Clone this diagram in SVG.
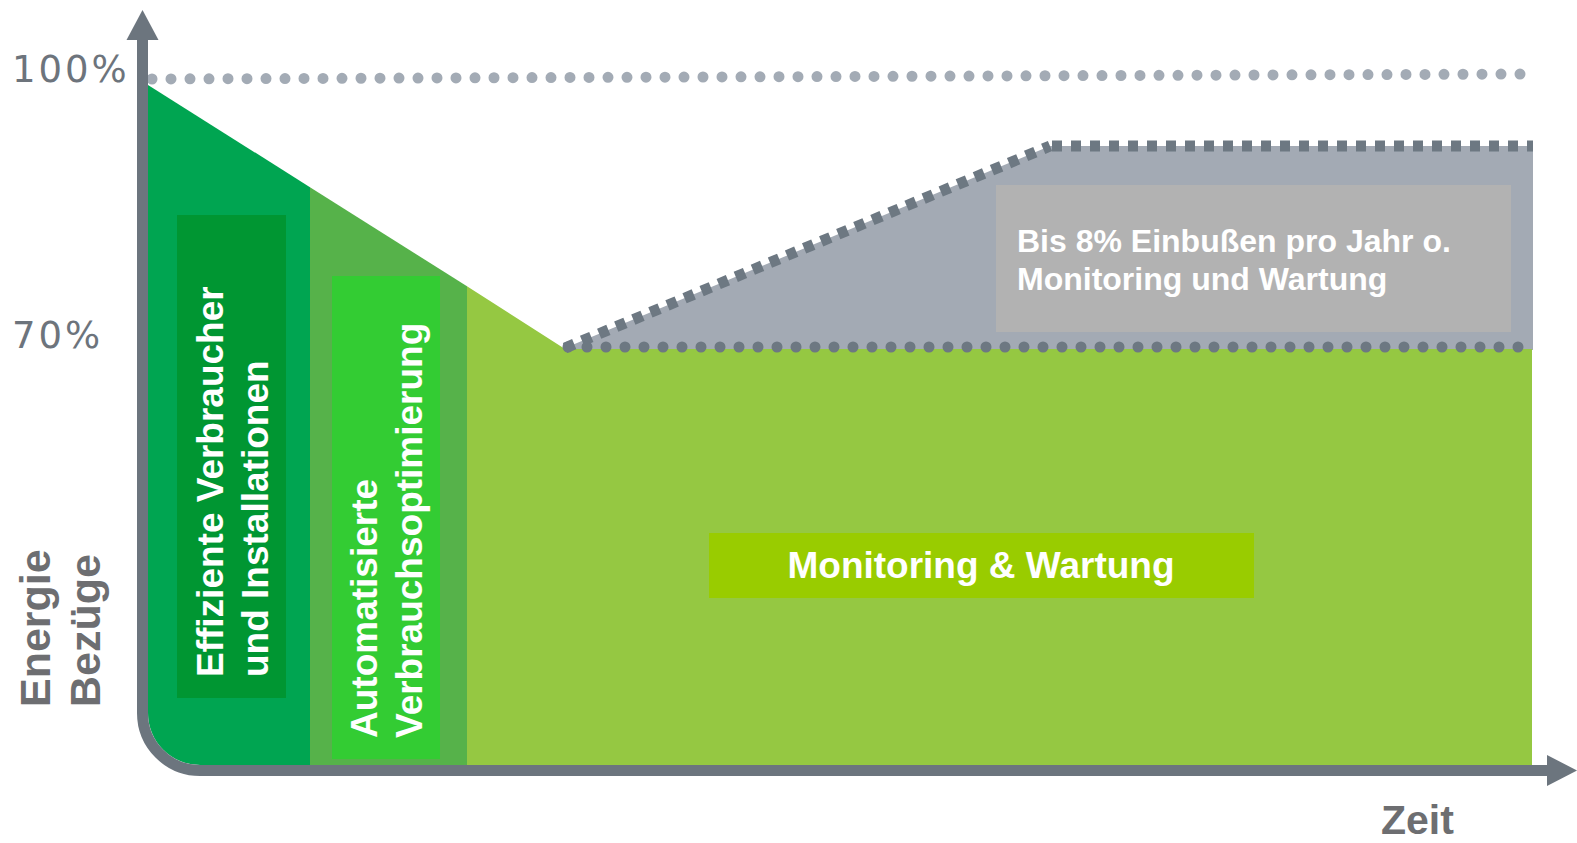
<svg xmlns="http://www.w3.org/2000/svg" width="1577" height="843" viewBox="0 0 1577 843">
<style>
.lbl{font-family:"Liberation Sans",Arial,sans-serif;font-weight:bold;fill:#ffffff}
.pct{font-family:"DejaVu Sans",sans-serif;font-size:37px;fill:#6d747c;letter-spacing:3px}
.axt{font-family:"Liberation Sans",Arial,sans-serif;font-weight:bold;fill:#6d6e71}
.axis{fill:none;stroke:#6c757e;stroke-width:11}
</style>
<rect width="1577" height="843" fill="#ffffff"/>
<g id="loss-area">
<polygon points="565,348 1050,146 1533,146 1533,350 565,350" fill="#a3aab4"/>
</g>
<g id="phase1">
<path d="M148,85 L310,187.2 L310,765 L200,765 A52,52 0 0 1 148,713 Z" fill="#00a551"/>
<rect x="177" y="215" width="109" height="483" fill="#009632"/>
<text class="lbl" font-size="37" transform="translate(223,677) rotate(-90)">Effiziente Verbraucher</text>
<text class="lbl" font-size="37" transform="translate(268,677) rotate(-90)">und Installationen</text>
</g>
<g id="phase2">
<polygon points="310,187.2 467,286.3 467,765 310,765" fill="#56b24a"/>
<rect x="332" y="276" width="108" height="483" fill="#33cc33"/>
<text class="lbl" font-size="37" transform="translate(377,738) rotate(-90)">Automatisierte</text>
<text class="lbl" font-size="37" transform="translate(422,738) rotate(-90)">Verbrauchsoptimierung</text>
</g>
<g id="phase3">
<polygon points="467,286.3 565,349 1532,349 1532,765 467,765" fill="#95c842"/>
<rect x="709" y="533" width="545" height="65" fill="#99cc00"/>
<text class="lbl" font-size="37" x="981" y="578" text-anchor="middle">Monitoring &amp; Wartung</text>
</g>
<g id="loss-label">
<rect x="996" y="185" width="515" height="147" fill="#b2b2b2"/>
<text class="lbl" font-size="32" x="1017" y="252">Bis 8% Einbußen pro Jahr o.</text>
<text class="lbl" font-size="32" x="1017" y="290">Monitoring und Wartung</text>
</g>
<g id="connectors">
<path d="M152,79 L1531,74" fill="none" stroke="#a3abb5" stroke-width="11" stroke-linecap="round" stroke-dasharray="0 19"/>
<path d="M565,348 L1050,146" fill="none" stroke="#6d7882" stroke-width="11" stroke-dasharray="10 8.5"/>
<path d="M1052,146 L1533,146" fill="none" stroke="#6d7882" stroke-width="11" stroke-dasharray="10 9"/>
<path d="M568,347 L1531,347" fill="none" stroke="#6d7882" stroke-width="11" stroke-linecap="round" stroke-dasharray="0 19"/>
<path class="axis" d="M142.5,38 L142.5,713 A57.5,57.5 0 0 0 200,770.5 L1550,770.5"/>
<polygon points="142.5,10 158.5,40 126.5,40" fill="#6c757e"/>
<polygon points="1577,770.5 1547,755 1547,786" fill="#6c757e"/>
</g>
<g id="axis-labels">
<text class="pct" x="12" y="82">100%</text>
<text class="pct" x="12" y="348">70%</text>
<text class="axt" font-size="43" transform="translate(50,707) rotate(-90)">Energie</text>
<text class="axt" font-size="43" transform="translate(100,707) rotate(-90)">Bezüge</text>
<text class="axt" font-size="41" x="1381" y="834">Zeit</text>
</g>
</svg>
